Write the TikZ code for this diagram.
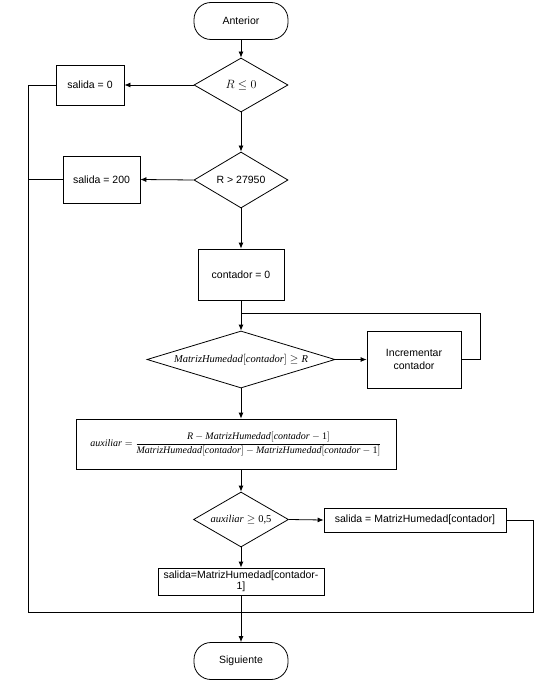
\documentclass[tikz,border=0pt]{standalone}
\usepackage{fontspec}
\setmainfont{Liberation Sans}
\newfontfamily\serifit{Liberation Serif}
\newcommand\mv[1]{\mbox{\serifit\itshape #1}}
\newcommand\mn[1]{\mbox{\serifit #1}}
\usetikzlibrary{shapes.geometric,arrows.meta}
\begin{document}
\begin{tikzpicture}[x=1pt,y=-1pt,
  every node/.style={font=\fontsize{10.5}{12.5}\selectfont, line width=0.8pt, inner sep=1pt},
  term/.style={draw, rectangle, rounded corners=17pt, minimum width=94pt, minimum height=37pt},
  proc/.style={draw, rectangle},
  dec/.style={draw, diamond, inner sep=0pt, aspect=2},
  flow/.style={draw, line width=0.8pt, -{Latex[length=6pt,width=5pt]}},
  ln/.style={draw, line width=0.8pt}]
\useasboundingbox (0,0) rectangle (543,682);

\node[term] (ant) at (241,21) {Anterior};
\node[dec, minimum width=94pt, minimum height=54pt] (d1) at (241,85) {\fontsize{13}{15}\selectfont $R \leq 0$};
\node[proc, minimum width=68pt, minimum height=40pt] (s0) at (90,85) {salida = 0};
\node[dec, minimum width=94pt, minimum height=56pt] (d2) at (241,180) {R > 27950};
\node[proc, minimum width=77pt, minimum height=47pt] (s200) at (101.5,179.5) {salida = 200};
\node[proc, minimum width=86pt, minimum height=51pt] (c0) at (241,274.5) {contador = 0};
\node[dec, aspect=3.3, minimum width=188pt, minimum height=57pt] (d3) at (241,359.5)
  {\fontsize{10.5}{12}\selectfont $\mv{MatrizHumedad}[\mv{contador}] \geq \mv{R}$};
\node[proc, minimum width=94pt, minimum height=57pt, align=center] (inc) at (414,359.5) {Incrementar\\contador};
\node[proc, minimum width=320pt, minimum height=50pt] (aux) at (236,444)
  {\fontsize{10}{12}\selectfont $\displaystyle \mv{auxiliar} = \frac{\mv{R} - \mv{MatrizHumedad}[\mv{contador}-\mn{1}]}{\mv{MatrizHumedad}[\mv{contador}] - \mv{MatrizHumedad}[\mv{contador}-\mn{1}]}$};
\node[dec, minimum width=95pt, minimum height=55pt] (d4) at (241,519.5)
  {\fontsize{10.5}{12}\selectfont $\mv{auxiliar} \geq \mn{0,5}$};
\node[proc, minimum width=182pt, minimum height=24pt] (sm) at (415,520) {salida = MatrizHumedad[contador]};
\node[proc, minimum width=166pt, minimum height=27pt, align=center, inner sep=0pt] (sm1) at (241,581.5)
  {salida=MatrizHumedad[contador-\\[-2pt]1]};
\node[term] (sig) at (241,661) {Siguiente};

\coordinate (lp) at (480,313);
\coordinate (bl) at (28,612);
\coordinate (br) at (533,612);

\path[flow] (ant) -- (d1);
\path[flow] (d1.west) -- (s0.east);
\path[flow] (d1) -- (d2);
\path[flow] (d2.west) -- (s200.east);
\path[flow] (d2) -- (c0);
\path[flow] (c0) -- (d3);
\path[flow] (d3.east) -- (inc.west);
\path[ln] (inc.east) -| (lp) -- (lp -| c0.south);
\path[flow] (d3.south) -- (d3.south |- aux.north);
\path[flow] (d3.south |- aux.south) -- (d4.north);
\path[flow] (d4.east) -- (sm.west);
\path[flow] (d4) -- (sm1);
\path[flow] (sm1) -- (sig);
\path[ln] (s0.west) -| (bl) -- (br) |- (sm.east);
\path[ln] (s200.west) -- (s200.west -| bl);
\end{tikzpicture}
\end{document}
